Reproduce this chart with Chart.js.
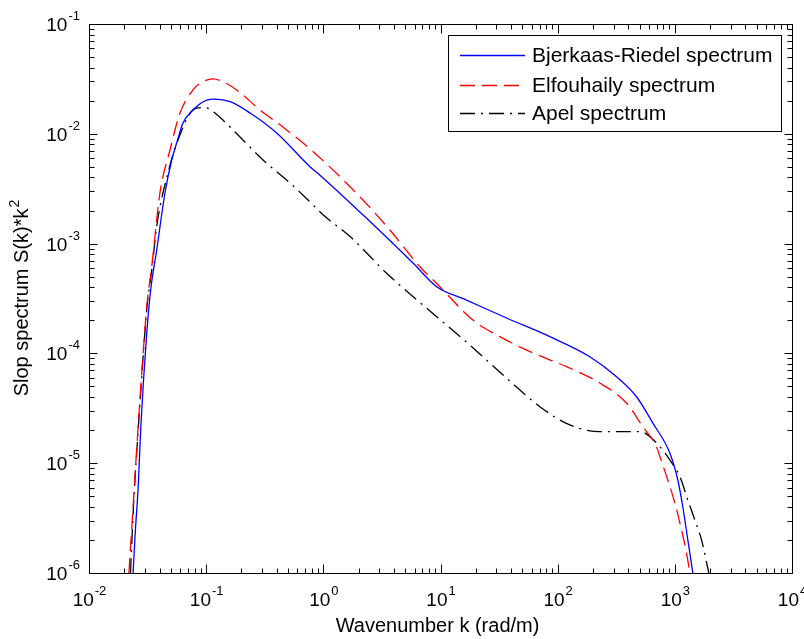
<!DOCTYPE html>
<html>
  <head>
    <title>
      Slope spectrum comparison
    </title>
    <script src="https://cdn.jsdelivr.net/npm/chart.js"></script>
    <style>
      body { margin: 0; background: #fff; }
    </style>
  </head>
  <body>
    <canvas id="myChart" width="804" height="639"></canvas>
    <script>
      'use strict'
      // values (k in rad/m, S(k)*k^2)
      const kBR = [0.0238, 0.0247, 0.0264, 0.0276, 0.0291, 0.0311, 0.0336, 0.0378, 0.0445, 0.0508, 0.056, 0.0634, 0.0771, 0.101, 0.119, 0.160, 0.237, 0.40, 0.769, 0.936, 2.34, 5.85, 9.27, 16.7, 36.6, 85.8, 188, 318, 471, 649, 906, 1061, 1170, 1291, 1425];
      const sBR = [1.0e-6, 2.14e-6, 6.6e-6, 2.0e-5, 5.4e-5, 1.53e-4, 3.78e-4, 8.7e-4, 2.89e-3, 5.77e-3, 8.24e-3, 0.01254, 0.01648, 0.0203, 0.0207, 0.0196, 0.01547, 0.01017, 5.02e-3, 4.2e-3, 1.70e-3, 6.62e-4, 4.05e-4, 3.06e-4, 2.10e-4, 1.42e-4, 9.33e-5, 6.13e-5, 4.03e-5, 2.32e-5, 1.24e-5, 7.03e-6, 3.99e-6, 2.0e-6, 1.0e-6];

      const kEl = [0.0219, 0.0239, 0.0255, 0.0272, 0.0291, 0.0311, 0.0343, 0.0403, 0.0491, 0.0598, 0.0771, 0.0885, 0.114, 0.139, 0.182, 0.288, 0.452, 0.82, 2.05, 3.70, 6.67, 9.55, 18.9, 32.1, 61.4, 119, 229, 387, 533, 698, 745, 871, 1000, 1140, 1259, 1343];
      const sEl = [1.0e-6, 4.34e-6, 1.32e-5, 3.77e-5, 1.07e-4, 2.66e-4, 6.16e-4, 2.89e-3, 7.12e-3, 0.01547, 0.0251, 0.0288, 0.0316, 0.0298, 0.0251, 0.0165, 0.01153, 6.87e-3, 2.67e-3, 1.33e-3, 6.16e-4, 4.2e-4, 2.01e-4, 1.42e-4, 1.01e-4, 7.57e-5, 5.37e-5, 3.53e-5, 2.15e-5, 1.41e-5, 1.15e-5, 7.03e-6, 4.34e-6, 2.47e-6, 1.52e-6, 1.0e-6];

      const kAp = [0.0226, 0.0240, 0.0256, 0.0273, 0.0292, 0.0312, 0.0345, 0.0378, 0.0472, 0.0575, 0.0771, 0.09, 0.101, 0.114, 0.139, 0.206, 0.306, 0.519, 0.697, 1.0, 1.69, 3.47, 5.85, 9.27, 17.8, 36.6, 70.5, 127, 229, 502, 698, 906, 1104, 1291, 1481, 1690, 1950];
      const sAp = [1.0e-6, 4.2e-6, 1.3e-5, 3.7e-5, 1.05e-4, 2.6e-4, 6.0e-4, 1.43e-3, 4.4e-3, 8.78e-3, 0.0165, 0.0173, 0.0172, 0.0160, 0.01335, 8.78e-3, 5.77e-3, 3.56e-3, 2.66e-3, 1.82e-3, 1.16e-3, 5.37e-4, 3.28e-4, 2.16e-4, 1.19e-4, 5.97e-5, 3.27e-5, 2.23e-5, 1.94e-5, 1.94e-5, 1.53e-5, 1.07e-5, 7.54e-6, 4.62e-6, 3.04e-6, 2.0e-6, 1.0e-6];

      const seriesNames = ['Bjerkaas-Riedel spectrum', 'Elfouhaily spectrum', 'Apel spectrum'];
      const xTickExp = [-2, -1, 0, 1, 2, 3, 4];
      const yTickExp = [-6, -5, -4, -3, -2, -1];
      const xTitle = 'Wavenumber k (rad/m)';
      const yTitle = 'Slop spectrum S(k)*k';

      const FONT = '"Liberation Sans", Arial, sans-serif';

      function toPoints(ks, ss) {
        return ks.map((k, i) => ({ x: k, y: ss[i] }));
      }

      // "10" with a raised exponent, like matlab draws it
      function drawPow(ctx, exp, px, py, align) {
        const base = '10';
        const sup = exp < 0 ? '-' + Math.abs(exp) : String(exp);
        ctx.font = '19px ' + FONT;
        const wb = ctx.measureText(base).width;
        ctx.font = '13px ' + FONT;
        const ws = ctx.measureText(sup).width;
        let start;
        if (align === 'center') start = px - (wb + ws) / 2;
        else start = px - (wb + ws);
        ctx.textAlign = 'left';
        ctx.textBaseline = 'alphabetic';
        ctx.font = '19px ' + FONT;
        ctx.fillText(base, start, py);
        ctx.font = '13px ' + FONT;
        ctx.fillText(sup, start + wb + 1, py - 11);
      }

      const matlabAxes = {
        id: 'matlabAxes',
        afterDraw(chart) {
          const { ctx, chartArea: a } = chart;
          const xs = chart.scales.x;
          const ys = chart.scales.y;
          const L = Math.round(a.left) + 0.5;
          const R = Math.round(a.right) + 0.5;
          const T = Math.round(a.top) + 0.5;
          const B = Math.round(a.bottom) + 0.5;
          ctx.save();
          ctx.strokeStyle = '#000';
          ctx.fillStyle = '#000';
          ctx.lineWidth = 1;
          ctx.setLineDash([]);
          ctx.strokeRect(L, T, R - L, B - T);

          ctx.beginPath();
          // x ticks, inward, bottom and top
          for (let e = xTickExp[0]; e <= xTickExp[xTickExp.length - 1]; e++) {
            for (let m = 1; m <= 9; m++) {
              const v = m * Math.pow(10, e);
              if (v > xs.max * 1.0001) break;
              const p = Math.round(xs.getPixelForValue(v)) + 0.5;
              const len = m === 1 ? 9 : 5;
              ctx.moveTo(p, B); ctx.lineTo(p, B - len);
              ctx.moveTo(p, T); ctx.lineTo(p, T + len);
            }
          }
          // y ticks, inward, left and right
          for (let e = yTickExp[0]; e <= yTickExp[yTickExp.length - 1]; e++) {
            for (let m = 1; m <= 9; m++) {
              const v = m * Math.pow(10, e);
              if (v > ys.max * 1.0001) break;
              const p = Math.round(ys.getPixelForValue(v)) + 0.5;
              const len = m === 1 ? 8 : 5;
              ctx.moveTo(L, p); ctx.lineTo(L + len, p);
              ctx.moveTo(R, p); ctx.lineTo(R - len, p);
            }
          }
          ctx.stroke();

          // tick labels
          xTickExp.forEach(e => drawPow(ctx, e, xs.getPixelForValue(Math.pow(10, e)), 606, 'center'));
          yTickExp.forEach(e => drawPow(ctx, e, 79, ys.getPixelForValue(Math.pow(10, e)) + 7, 'right'));

          // axis titles
          ctx.font = '20px ' + FONT;
          ctx.textAlign = 'center';
          ctx.textBaseline = 'alphabetic';
          ctx.fillText(xTitle, (a.left + a.right) / 2 - 3, 632);

          ctx.save();
          ctx.translate(28, (a.top + a.bottom) / 2);
          ctx.rotate(-Math.PI / 2);
          ctx.font = '20px ' + FONT;
          const wt = ctx.measureText(yTitle).width;
          ctx.font = '14px ' + FONT;
          const w2 = ctx.measureText('2').width;
          const st = -(wt + w2) / 2;
          ctx.textAlign = 'left';
          ctx.font = '20px ' + FONT;
          ctx.fillText(yTitle, st, 0);
          ctx.font = '14px ' + FONT;
          ctx.fillText('2', st + wt + 1, -9);
          ctx.restore();

          // legend box inside the axes
          const bx = 448.5, by = 35.5, bw = 333, bh = 96;
          ctx.fillStyle = '#fff';
          ctx.fillRect(bx, by, bw, bh);
          ctx.strokeStyle = '#000';
          ctx.strokeRect(bx, by, bw, bh);
          const rows = [55, 85, 113];
          chart.data.datasets.forEach((ds, i) => {
            ctx.strokeStyle = ds.borderColor;
            ctx.lineWidth = 1.3;
            ctx.setLineDash(ds.borderDash || []);
            ctx.beginPath();
            ctx.moveTo(460, rows[i] + 0.5);
            ctx.lineTo(525, rows[i] + 0.5);
            ctx.stroke();
            ctx.setLineDash([]);
            ctx.fillStyle = '#000';
            ctx.font = '21px ' + FONT;
            ctx.textAlign = 'left';
            ctx.textBaseline = 'middle';
            ctx.fillText(ds.label, 532, rows[i] + 1);
          });
          ctx.restore();
        }
      };

      const ctx = document.getElementById('myChart');

      new Chart(ctx, {
        type: 'line',
        data: {
          datasets: [{
            label: seriesNames[0],
            data: toPoints(kBR, sBR),
            borderColor: 'rgb(0,0,255)',
            borderWidth: 1.3,
            pointRadius: 0,
            cubicInterpolationMode: 'monotone',
          }, {
            label: seriesNames[1],
            data: toPoints(kEl, sEl),
            borderColor: 'rgb(255,0,0)',
            borderWidth: 1.3,
            borderDash: [15, 7],
            pointRadius: 0,
            cubicInterpolationMode: 'monotone',
          }, {
            label: seriesNames[2],
            data: toPoints(kAp, sAp),
            borderColor: 'rgb(0,0,0)',
            borderWidth: 1.3,
            borderDash: [15, 6, 2, 6],
            pointRadius: 0,
            cubicInterpolationMode: 'monotone',
          }]
        },
        options: {
          responsive: false,
          animation: false,
          layout: {
            padding: { left: 89, right: 12, top: 24, bottom: 66 }
          },
          plugins: {
            legend: { display: false },
            tooltip: { enabled: false },
          },
          scales: {
            x: {
              type: 'logarithmic',
              min: 0.01,
              max: 10000,
              display: false,
            },
            y: {
              type: 'logarithmic',
              min: 1e-6,
              max: 0.1,
              display: false,
            }
          }
        },
        plugins: [matlabAxes]
      });
    </script>
  </body>
</html>
